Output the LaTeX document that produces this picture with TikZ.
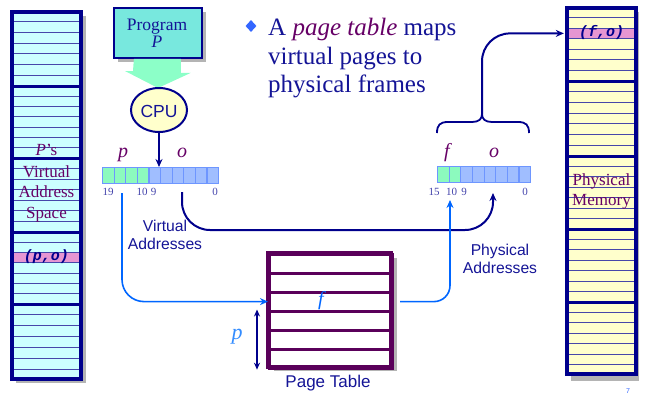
\documentclass[tikz,border=0pt]{standalone}
\usepackage{fontspec}
\setmainfont{Liberation Serif}
\setsansfont{Liberation Sans}
\setmonofont{Liberation Mono}
\usetikzlibrary{arrows.meta,shapes.geometric,calc}
\definecolor{navy}{RGB}{0,0,140}
\definecolor{textnavy}{RGB}{20,20,150}
\definecolor{colcyan}{RGB}{204,255,255}
\definecolor{memyel}{RGB}{255,255,204}
\definecolor{pinkst}{RGB}{230,150,210}
\definecolor{thinl}{RGB}{70,70,170}
\definecolor{shadowg}{RGB}{180,180,180}
\definecolor{purp}{RGB}{102,0,102}
\definecolor{progfill}{RGB}{120,232,222}
\definecolor{mint}{RGB}{140,255,200}
\definecolor{cpufill}{RGB}{255,255,204}
\definecolor{regg}{RGB}{140,250,190}
\definecolor{regb}{RGB}{160,190,255}
\definecolor{regline}{RGB}{110,150,255}
\definecolor{bblue}{RGB}{0,102,255}
\definecolor{ptpurp}{RGB}{90,0,90}
\definecolor{lbluetxt}{RGB}{51,140,255}
\definecolor{bullet}{RGB}{51,102,255}
\begin{document}
\begin{tikzpicture}[x=1pt,y=-1pt,
  every node/.style={inner sep=0pt},
  serif17/.style={font=\fontsize{17.5}{20}\selectfont},
  coltext/.style={font=\fontsize{17}{20}\selectfont, text=purp, anchor=base},
  sanslab/.style={font=\sffamily\fontsize{15.7}{18}\selectfont, text=textnavy, anchor=base},
  title/.style={font=\fontsize{25}{28}\selectfont, text=textnavy, anchor=base west},
  num/.style={font=\fontsize{11}{12}\selectfont, text=textnavy!80, anchor=base},
  fieldlab/.style={font=\itshape\fontsize{20}{22}\selectfont, text=purp, anchor=base},
  cellg/.style={rectangle, draw=regline, line width=1.2pt, fill=regg, minimum width=11.6pt, minimum height=16pt, anchor=north west},
  cellb/.style={rectangle, draw=regline, line width=1.2pt, fill=regb, minimum width=11.6pt, minimum height=16pt, anchor=north west},
  stripe/.style={rectangle, fill=pinkst, minimum width=69pt, minimum height=10.4pt},
  potext/.style={font=\ttfamily\bfseries\itshape\fontsize{15}{15}\selectfont, text=navy},
  thinline/.style={thinl, line width=0.9pt},
  thickline/.style={navy, line width=3pt},
  navyline/.style={navy, line width=2pt},
  blueline/.style={bblue, line width=1.6pt},
  tip/.style={-{Stealth[length=8pt,width=7pt]}},
  ptrow/.style={rectangle, draw=ptpurp, line width=3.2pt, fill=white, minimum width=123pt, minimum height=19pt, anchor=north west}
]
\useasboundingbox (0,0) rectangle (656,418);

% ---------- left column: virtual address space ----------
\fill[shadowg] (16,16) rectangle (86,383);
\fill[colcyan] (12,12) rectangle (81,379);
\node[stripe] (po) at (46.5,257.7) {};
\foreach \t/\b in {11/86,86/158,158/232,232/304,304/380} {
  \foreach \k in {1,...,6} {
    \draw[thinline] (12,{\t+\k*(\b-\t)/7}) -- (81,{\t+\k*(\b-\t)/7});
  }
}
\foreach \y in {86,158,232,304} { \draw[thickline] (12,\y) -- (81,\y); }
\draw[navy, line width=3.5pt] (12,12) rectangle (81,379);
\node[potext] (potxt) at (46.5,257) {(p,o)};
\node[coltext] (vas1) at (46.5,155) {\textit{P}'s};
\node[coltext] (vas2) at (46.5,177) {Virtual};
\node[coltext] (vas3) at (46.5,197) {Address};
\node[coltext] (vas4) at (46.5,218) {Space};

% ---------- right column: physical memory ----------
\fill[shadowg] (571,12) rectangle (639,381);
\fill[memyel] (567,8) rectangle (636,374);
\node[stripe] (fo) at (601.5,33.4) {};
\foreach \t/\b in {7/81,81/156,156/229,229/302,302/375} {
  \foreach \k in {1,...,6} {
    \draw[thinline] (567,{\t+\k*(\b-\t)/7}) -- (636,{\t+\k*(\b-\t)/7});
  }
}
\foreach \y in {81,156,229,302} { \draw[thickline] (567,\y) -- (636,\y); }
\draw[navy, line width=3.5pt] (567,8) rectangle (636,374);
\node[potext] (fotxt) at (601.5,33) {(f,o)};
\node[coltext] (pm1) at (601.5,185) {Physical};
\node[coltext] (pm2) at (601.5,205) {Memory};

% ---------- program, arrow, CPU ----------
\fill[shadowg] (118,12) rectangle (206,62);
\node[rectangle, draw=navy, line width=1.8pt, fill=progfill, minimum width=88pt, minimum height=50pt, anchor=north west] (prog) at (113,7) {};
\node[serif17, text=textnavy, anchor=base] (progt1) at (157,30) {Program};
\node[serif17, text=textnavy, anchor=base] (progt2) at (157,47) {\textit{P}};
\fill[mint] (prog.south) ++(-24,0) -- ++(47,0) -- ++(0,14) -- ++(10,0) -- (158,88) -- (125,71) -- (133,71) -- cycle;
\node[ellipse, draw=navy, line width=2pt, fill=cpufill, minimum width=56pt, minimum height=44pt] (cpu) at (159,110) {};
\node[font=\sffamily\fontsize{17.5}{18}\selectfont, text=textnavy, anchor=base] (cput) at (159,117) {CPU};

% ---------- virtual register ----------
\node[rectangle, minimum width=116pt, minimum height=16pt, anchor=north west] (vreg) at (102,167) {};
\foreach \i in {1,...,4} { \node[cellg] (v\i) at ({102+11.6*(\i-1)},167) {}; }
\foreach \i in {5,...,10} { \node[cellb] (v\i) at ({102+11.6*(\i-1)},167) {}; }
\draw[navyline, tip] (cpu.south) -- (cpu.south |- vreg.north);
\node[fieldlab] (lp) at (123,157) {p};
\node[fieldlab] (lo) at (182,157) {o};
\node[num] (n19) at (108,195) {19};
\node[num] (n10) at (142,195) {10};
\node[num] (n9) at (153.5,195) {9};
\node[num] (n0) at (215,195) {0};

% ---------- physical register ----------
\node[rectangle, minimum width=93pt, minimum height=16pt, anchor=north west] (preg) at (437,166) {};
\foreach \i in {1,2} { \node[cellg, minimum width=11.625pt] (f\i) at ({437+11.625*(\i-1)},166) {}; }
\foreach \i in {3,...,8} { \node[cellb, minimum width=11.625pt] (f\i) at ({437+11.625*(\i-1)},166) {}; }
\node[fieldlab] (lf) at (447,157) {f};
\node[fieldlab] (lo2) at (494,157) {o};
\node[num] (m15) at (434,195) {15};
\node[num] (m10) at (451.5,195) {10};
\node[num] (m9) at (464,195) {9};
\node[num] (m0) at (525,195) {0};

% ---------- brace and arrow to memory ----------
\coordinate (bt) at (482,114);
\draw[navy, line width=1.8pt] (437,133) .. controls (437,125) and (440,122) .. (448,122) -- (472,122) .. controls (479,122) and (482,119) .. (bt) .. controls (482,119) and (485,122) .. (492,122) -- (518,122) .. controls (526,122) and (529,125) .. (529,133);
\draw[navyline, tip, rounded corners=28pt, shorten >=3pt] (bt) |- (fo.west);

% ---------- title ----------
\node[diamond, fill=bullet, minimum width=11pt, minimum height=12pt] (bul) at (251,26) {};
\node[title] (t1) at (268,35.5) {A \textcolor{purp}{\textit{page table}} maps};
\node[title] (t2) at (268,64) {virtual pages to};
\node[title] (t3) at (268,92.5) {physical frames};

% ---------- page table ----------
\fill[shadowg] (274,258) rectangle (397,371);
\foreach \i/\y in {1/253,2/272,3/290.5,4/309.5,5/328.5,6/347.5} {
  \node[ptrow] (r\i) at (268,\y) {};
}
\draw[ptpurp, line width=3.5pt] (268,253) rectangle (391,367);
\node[font=\itshape\fontsize{20}{22}\selectfont, text=bblue] (ftxt) at (321,301) {f};
\node[sanslab, font=\sffamily\fontsize{17}{18}\selectfont] (ptl) at (328,387) {Page Table};
\draw[navy, line width=1.3pt, {Stealth[length=7pt,width=6pt]}-{Stealth[length=7pt,width=6pt]}] ([xshift=-11pt]r4.north west) -- ([xshift=-11pt]r6.south west);
\node[font=\itshape\fontsize{22}{24}\selectfont, text=lbluetxt] (ptp) at (237,337) {p};

% ---------- labels ----------
\node[sanslab] (va1) at (165,231) {Virtual};
\node[sanslab] (va2) at (165,249) {Addresses};
\node[sanslab] (pa1) at (500,255) {Physical};
\node[sanslab] (pa2) at (500,273) {Addresses};

% ---------- connectors ----------
\coordinate (vp) at (122,193);
\coordinate (vo) at (182,192);
\coordinate (pof) at (493,193);
\coordinate (pf) at (450,200);
\draw[navyline, tip, rounded corners=28pt] (vo) |- ($(pof)+(0,37)$) -- (pof);
\draw[blueline, tip, rounded corners=22pt] (vp) |- (r3.west);
\draw[blueline, tip, rounded corners=16pt] ([xshift=6pt]r3.east) -| (pf);

\node[font=\sffamily\fontsize{7}{8}\selectfont, text=bullet] (pg) at (628,391) {7};
\end{tikzpicture}
\end{document}
